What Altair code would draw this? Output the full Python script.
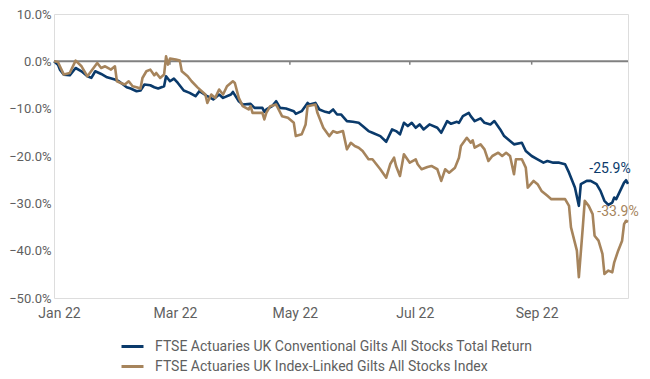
import altair as alt
import pandas as pd

series_names = [
    "FTSE Actuaries UK Conventional Gilts All Stocks Total Return",
    "FTSE Actuaries UK Index-Linked Gilts All Stocks Index",
]
series_colors = ["#0a3a6b", "#a6845c"]

conv_dates = ["2022-01-01","2022-01-03","2022-01-04","2022-01-06","2022-01-09","2022-01-10","2022-01-12","2022-01-15","2022-01-18","2022-01-20",
"2022-01-22","2022-01-25","2022-01-28","2022-02-01","2022-02-03","2022-02-07","2022-02-09","2022-02-12","2022-02-14","2022-02-16",
"2022-02-19","2022-02-21","2022-02-23","2022-02-26","2022-02-27","2022-03-01","2022-03-03","2022-03-05","2022-03-08","2022-03-11",
"2022-03-14","2022-03-16","2022-03-20","2022-03-23","2022-03-26","2022-03-28","2022-04-01","2022-04-02","2022-04-05","2022-04-07",
"2022-04-11","2022-04-13","2022-04-17","2022-04-18","2022-04-19","2022-04-22","2022-04-24","2022-04-26","2022-04-29","2022-05-03",
"2022-05-04","2022-05-07","2022-05-10","2022-05-11","2022-05-14","2022-05-16","2022-05-19","2022-05-21","2022-05-23","2022-05-25",
"2022-05-27","2022-05-30","2022-06-02","2022-06-05","2022-06-07","2022-06-10","2022-06-12","2022-06-16","2022-06-19","2022-06-22",
"2022-06-24","2022-06-26","2022-06-28","2022-06-30","2022-07-02","2022-07-04","2022-07-06","2022-07-08","2022-07-11","2022-07-15",
"2022-07-17","2022-07-20","2022-07-22","2022-07-25","2022-07-26","2022-07-28","2022-07-31","2022-08-01","2022-08-03","2022-08-06",
"2022-08-08","2022-08-11","2022-08-13","2022-08-16","2022-08-18","2022-08-21","2022-08-23","2022-08-27","2022-08-29","2022-09-01",
"2022-09-04","2022-09-07","2022-09-09","2022-09-12","2022-09-15","2022-09-18","2022-09-20","2022-09-23","2022-09-25","2022-09-26",
"2022-09-29","2022-10-01","2022-10-04","2022-10-06","2022-10-08","2022-10-10","2022-10-12","2022-10-13","2022-10-14","2022-10-16",
"2022-10-18","2022-10-19","2022-10-20"]
conv_values = [0.0,-0.7,-1.75,-2.8,-2.95,-2.46,-1.41,-2.1,-3.16,-3.5,
-2.1,-2.67,-3.37,-3.85,-4.21,-5.47,-5.75,-6.32,-6.17,-4.9,
-5.05,-5.47,-5.75,-5.26,-3.16,-4.21,-3.64,-4.57,-6.17,-6.67,
-7.37,-6.3,-7.37,-8.06,-7.01,-7.73,-7.01,-6.46,-8.42,-9.12,
-8.99,-9.83,-9.83,-10.67,-10.17,-9.47,-8.42,-9.83,-9.96,-10.53,
-11.09,-10.53,-8.78,-9.12,-8.78,-10.17,-10.67,-10.88,-10.17,-11.22,
-11.22,-12.63,-12.78,-12.99,-13.68,-14.74,-15.09,-15.79,-16.99,-14.38,
-14.74,-15.43,-12.99,-13.68,-12.99,-14.04,-13.33,-14.38,-13.33,-14.04,
-15.09,-12.63,-13.2,-12.78,-12.99,-11.58,-10.88,-11.58,-12.63,-12.06,
-12.99,-13.33,-12.63,-14.38,-15.79,-16.84,-17.54,-17.2,-18.95,-20.0,
-20.69,-21.41,-21.05,-21.41,-21.41,-21.75,-23.52,-26.67,-30.53,-25.96,
-25.26,-25.26,-25.96,-27.37,-29.47,-30.32,-29.83,-28.78,-29.12,-27.37,
-25.62,-25.12,-25.9]

il_dates = ["2022-01-01","2022-01-03","2022-01-04","2022-01-06","2022-01-09","2022-01-12","2022-01-15","2022-01-18","2022-01-23","2022-01-25",
"2022-01-27","2022-01-30","2022-02-01","2022-02-02","2022-02-04","2022-02-06","2022-02-08","2022-02-10","2022-02-12","2022-02-14",
"2022-02-15","2022-02-17","2022-02-19","2022-02-21","2022-02-22","2022-02-24","2022-02-26","2022-02-27","2022-02-28","2022-03-01",
"2022-03-04","2022-03-06","2022-03-07","2022-03-10","2022-03-12","2022-03-15","2022-03-19","2022-03-20","2022-03-22","2022-03-24",
"2022-03-26","2022-03-28","2022-03-30","2022-04-02","2022-04-03","2022-04-05","2022-04-07","2022-04-10","2022-04-11","2022-04-12",
"2022-04-17","2022-04-18","2022-04-19","2022-04-21","2022-04-24","2022-04-27","2022-04-30","2022-05-03","2022-05-04","2022-05-07",
"2022-05-09","2022-05-10","2022-05-14","2022-05-15","2022-05-18","2022-05-21","2022-05-23","2022-05-25","2022-05-28","2022-05-30",
"2022-06-01","2022-06-03","2022-06-05","2022-06-07","2022-06-10","2022-06-12","2022-06-16","2022-06-19","2022-06-21","2022-06-23",
"2022-06-24","2022-06-26","2022-06-28","2022-07-01","2022-07-04","2022-07-05","2022-07-07","2022-07-10","2022-07-12","2022-07-15",
"2022-07-17","2022-07-19","2022-07-21","2022-07-24","2022-07-26","2022-07-27","2022-07-30","2022-08-01","2022-08-02","2022-08-03",
"2022-08-06","2022-08-08","2022-08-10","2022-08-12","2022-08-15","2022-08-17","2022-08-19","2022-08-21","2022-08-23","2022-08-24",
"2022-08-27","2022-08-29","2022-08-30","2022-09-02","2022-09-04","2022-09-06","2022-09-09","2022-09-11","2022-09-14","2022-09-18",
"2022-09-20","2022-09-21","2022-09-24","2022-09-25","2022-09-27","2022-09-28","2022-09-30","2022-10-02","2022-10-03","2022-10-05",
"2022-10-07","2022-10-08","2022-10-10","2022-10-12","2022-10-13","2022-10-15","2022-10-17","2022-10-18","2022-10-19","2022-10-20"]
il_values = [0.0,-0.15,-1.05,-2.8,-2.46,0.15,-1.05,-3.16,-0.36,-1.41,
-1.05,-1.75,-1.05,-4.21,-4.57,-4.9,-4.21,-5.26,-5.47,-5.75,
-3.52,-2.1,-1.75,-2.95,-2.46,-3.52,-2.8,1.05,-0.69,0.57,
0.36,0.15,-2.1,-3.16,-4.21,-5.5,-7.01,-8.78,-7.01,-7.73,
-5.96,-7.01,-5.26,-4.21,-4.57,-7.73,-9.47,-10.17,-9.47,-10.88,
-10.88,-12.27,-10.88,-9.47,-9.12,-11.58,-11.94,-12.99,-15.79,-15.43,
-13.33,-9.47,-9.12,-10.88,-14.04,-15.79,-14.74,-15.09,-14.74,-18.59,
-17.2,-17.89,-18.25,-18.95,-20.69,-20.69,-22.8,-24.57,-21.75,-20.36,
-22.1,-24.21,-19.64,-21.41,-20.69,-21.75,-22.8,-22.32,-22.1,-22.8,
-25.26,-22.8,-23.52,-22.46,-20.36,-17.89,-16.15,-17.2,-16.69,-18.25,
-17.54,-18.59,-21.05,-20.0,-19.31,-20.0,-19.31,-20.0,-23.85,-20.69,
-20.69,-22.46,-26.67,-25.26,-25.96,-27.37,-28.42,-29.12,-29.12,-29.12,
-30.53,-35.09,-40.0,-45.62,-35.09,-29.47,-30.53,-32.27,-36.84,-37.89,
-40.69,-44.91,-44.21,-44.57,-42.46,-40.0,-37.89,-34.38,-33.68,-33.9]

tick_months = ["2022-03-01", "2022-05-01", "2022-07-01", "2022-09-01"]
axis_months = ["2022-01-01", "2022-03-01", "2022-05-01", "2022-07-01", "2022-09-01"]

FONT = "Roboto"
GREY = "#5f5f5f"

rows = []
for name, ds, vs in [(series_names[0], conv_dates, conv_values), (series_names[1], il_dates, il_values)]:
    for d, v in zip(ds, vs):
        rows.append({"date": pd.Timestamp(d), "value": v / 100.0, "series": name})
df = pd.DataFrame(rows)

x_scale = alt.Scale(domain=[alt.DateTime(year=2022, month=1, date=1), alt.DateTime(year=2022, month=10, date=20)])
y_scale = alt.Scale(domain=[-0.5, 0.1], nice=False, zero=False)

x_axis = alt.Axis(
    title=None, format="%b %y", domain=False, ticks=False, grid=False,
    values=[alt.DateTime(year=2022, month=int(m[5:7]), date=1) for m in axis_months],
    labelFlush=False, labelOffset=5, labelPadding=8,
    labelFont=FONT, labelFontSize=14, labelColor=GREY,
)
y_axis = alt.Axis(
    title=None, format=".1%", domain=False, ticks=False, grid=False,
    values=[0.1, 0.0, -0.1, -0.2, -0.3, -0.4, -0.5], labelPadding=3,
    labelFont=FONT, labelFontSize=13, labelColor=GREY,
)

zero_rule = alt.Chart(pd.DataFrame({"z": [0.0]})).mark_rule(color="#808080", strokeWidth=2).encode(
    y=alt.Y("z:Q", scale=y_scale, axis=y_axis)
)

ticks_df = pd.DataFrame({"date": pd.to_datetime(tick_months), "y0": 0.0, "y1": -0.007})
tick_marks = alt.Chart(ticks_df).mark_rule(color="#808080", strokeWidth=1.5).encode(
    x=alt.X("date:T", scale=x_scale, axis=x_axis),
    y=alt.Y("y0:Q", scale=y_scale),
    y2="y1:Q",
)

lines = alt.Chart(df).mark_line(strokeWidth=2.6, strokeJoin="round").encode(
    x=alt.X("date:T", scale=x_scale, axis=x_axis),
    y=alt.Y("value:Q", scale=y_scale, axis=y_axis),
    color=alt.Color(
        "series:N",
        scale=alt.Scale(domain=series_names, range=series_colors),
        legend=alt.Legend(
            title=None, orient="none", legendX=66, legendY=320, direction="vertical",
            symbolType="stroke", symbolSize=484, symbolStrokeWidth=3,
            labelFont=FONT, labelFontSize=14, labelColor=GREY, labelOffset=10,
            rowPadding=-4, labelLimit=500,
        ),
    ),
)

conv_last = pd.DataFrame({"date": [pd.Timestamp(conv_dates[-1])], "value": [conv_values[-1] / 100.0],
                          "label": [f"{conv_values[-1]:.1f}%"]})
il_last = pd.DataFrame({"date": [pd.Timestamp(il_dates[-1])], "value": [il_values[-1] / 100.0],
                        "label": [f"{il_values[-1]:.1f}%"]})

conv_text = alt.Chart(conv_last).mark_text(
    font=FONT, fontSize=14, color=series_colors[0], dx=-18, dy=-15
).encode(x=alt.X("date:T", scale=x_scale), y=alt.Y("value:Q", scale=y_scale), text="label:N")
il_text = alt.Chart(il_last).mark_text(
    font=FONT, fontSize=14, color=series_colors[1], dx=-10, dy=-10
).encode(x=alt.X("date:T", scale=x_scale), y=alt.Y("value:Q", scale=y_scale), text="label:N")

chart = alt.layer(zero_rule, tick_marks, lines, conv_text, il_text).properties(
    width=574, height=284,
    autosize=alt.AutoSizeParams(type="none"),
    padding={"left": 46, "top": 6, "right": 12, "bottom": 74},
).configure_view(stroke=None).configure(background="white")

chart.save("out.html", embed_options={"renderer": "svg", "actions": False})
